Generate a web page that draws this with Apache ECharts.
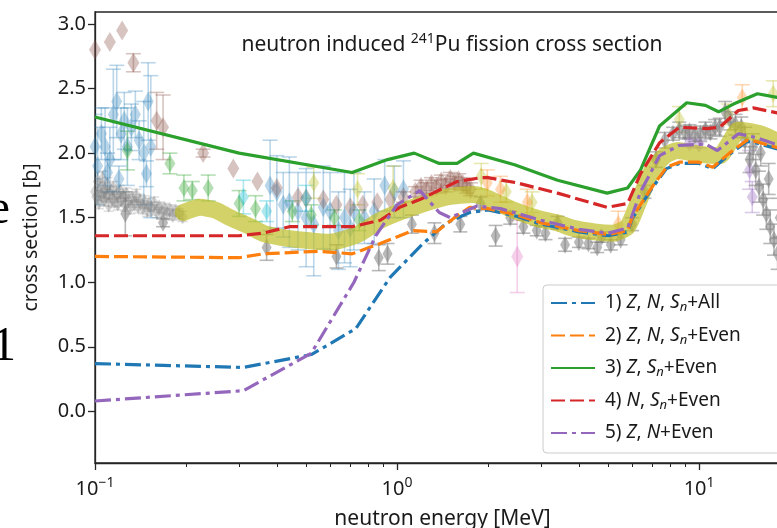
<!DOCTYPE html>
<html><head><meta charset="utf-8">
<script src="https://cdn.jsdelivr.net/npm/echarts@6/dist/echarts.min.js"></script>
<style>html,body{margin:0;padding:0;background:#fff;overflow:hidden;width:777px;height:528px}#c{width:830px;height:528px}</style>
</head><body><div id="c"></div>
<script>
// ---------- DATA ----------
const xMajorTicks = [0.1, 1, 10];
const xMinorTicks = [0.2,0.3,0.4,0.5,0.6,0.7,0.8,0.9,2,3,4,5,6,7,8,9,20];
const yTicks = [0.0,0.5,1.0,1.5,2.0,2.5,3.0];
const modelNames = ['1) Z, N, Sn+All','2) Z, N, Sn+Even','3) Z, Sn+Even','4) N, Sn+Even','5) Z, N+Even'];

const model1 = [[0.1,0.37],[0.31,0.34],[0.52,0.44],[0.73,0.64],[0.95,1.04],[1.22,1.30],[1.46,1.46],[1.74,1.54],[2.0,1.56],[2.5,1.51],[3.0,1.45],[4.0,1.39],[5.0,1.36],[5.8,1.39],[6.0,1.49],[7.0,1.73],[7.8,1.88],[8.6,1.92],[10.0,1.92],[11.1,1.88],[12.6,1.99],[14.4,2.09],[15.4,2.08],[18.3,2.03],[20,2.0]];
const model2 = [[0.1,1.20],[0.30,1.19],[0.36,1.22],[0.55,1.24],[0.71,1.22],[0.88,1.30],[1.13,1.40],[1.35,1.39],[1.55,1.50],[1.74,1.58],[2.0,1.57],[2.5,1.52],[3.0,1.46],[4.0,1.40],[5.0,1.37],[5.8,1.40],[6.0,1.50],[7.0,1.74],[7.8,1.89],[8.6,1.93],[10.0,1.93],[11.1,1.89],[12.6,2.0],[14.4,2.1],[15.4,2.09],[18.3,2.04],[20,2.01]];
const model3 = [[0.1,2.28],[0.30,2.0],[0.71,1.85],[0.93,1.95],[1.14,2.0],[1.38,1.92],[1.58,1.92],[1.79,2.0],[2.45,1.91],[3.4,1.79],[4.96,1.69],[5.8,1.73],[6.4,1.87],[7.4,2.21],[9.1,2.39],[10.5,2.37],[11.6,2.32],[13.0,2.38],[15.6,2.46],[18.3,2.43],[20,2.42]];
const model4 = [[0.1,1.36],[0.30,1.36],[0.36,1.38],[0.44,1.43],[0.71,1.43],[0.88,1.48],[1.02,1.58],[1.19,1.64],[1.58,1.78],[1.9,1.81],[2.0,1.81],[2.49,1.77],[3.4,1.69],[4.96,1.58],[5.8,1.61],[6.4,1.84],[7.4,2.08],[8.6,2.2],[10.6,2.19],[11.7,2.2],[13.5,2.33],[15.1,2.35],[18.3,2.31],[20,2.3]];
const model5 = [[0.1,0.08],[0.31,0.16],[0.52,0.45],[0.72,1.0],[0.85,1.36],[1.0,1.6],[1.19,1.71],[1.38,1.54],[1.5,1.50],[1.84,1.59],[2.2,1.57],[3.0,1.48],[4.0,1.41],[5.0,1.38],[5.8,1.42],[6.4,1.7],[7.4,1.98],[8.6,2.06],[10.5,2.07],[11.5,2.02],[13.5,2.15],[15.5,2.12],[18.3,2.06],[20,2.05]];

const evaluation = [[0.196,1.54],[0.223,1.58],[0.25,1.56],[0.28,1.50],[0.32,1.44],[0.36,1.38],[0.41,1.35],[0.47,1.33],[0.60,1.31],[0.74,1.37],[0.88,1.48],[1.13,1.58],[1.46,1.66],[1.79,1.68],[2.0,1.65],[2.42,1.56],[2.96,1.49],[3.4,1.46],[3.8,1.42],[4.5,1.39],[5.2,1.38],[5.8,1.43],[6.3,1.62],[7.0,1.87],[7.7,1.98],[8.5,2.02],[10.1,1.99],[11.7,1.98],[12.6,2.08],[13.5,2.18],[15.9,2.15],[18.3,2.09],[20,2.06]];

// experimental points: [energy, value, error]
const grayDense = [[0.100,1.70,0.06],[0.101,1.66,0.05],[0.102,1.78,0.07],[0.103,1.62,0.05],[0.104,1.72,0.06],[0.105,1.68,0.05],[0.106,1.80,0.06],[0.107,1.64,0.05],[0.108,1.71,0.06],[0.109,1.67,0.05],[0.110,1.75,0.06],[0.111,1.60,0.05],[0.112,1.69,0.05],[0.114,1.65,0.06],[0.115,1.73,0.05],[0.116,1.63,0.05],[0.118,1.68,0.06],[0.119,1.61,0.05],[0.121,1.70,0.05],[0.122,1.64,0.05],[0.124,1.66,0.06],[0.126,1.60,0.05],[0.127,1.68,0.05],[0.129,1.63,0.05],[0.131,1.58,0.05],[0.133,1.65,0.05],[0.135,1.61,0.05],[0.137,1.67,0.05],[0.139,1.59,0.05],[0.141,1.63,0.05],[0.144,1.58,0.05],[0.146,1.62,0.05],[0.149,1.56,0.05],[0.151,1.60,0.05],[0.154,1.57,0.05],[0.157,1.61,0.05],[0.160,1.55,0.05],[0.163,1.58,0.04],[0.166,1.54,0.04],[0.170,1.57,0.04],[0.173,1.53,0.04],[0.177,1.56,0.04],[0.181,1.52,0.04],[0.185,1.55,0.04],[0.190,1.53,0.04],[0.195,1.51,0.04]];
const grayPts = [[0.126,1.53,0.17],[0.168,1.46,0.03],[0.37,1.27,0.10],[0.63,1.20,0.09],[0.87,1.19,0.10],[0.93,1.22,0.08],[1.12,1.45,0.07],[1.33,1.38,0.08],[1.62,1.45,0.06],[1.89,1.61,0.05],[2.12,1.36,0.08],[2.37,1.50,0.05],[2.62,1.43,0.05],[2.9,1.40,0.04],[3.1,1.38,0.05],[3.4,1.46,0.05],[3.6,1.29,0.05],[4.0,1.31,0.04],[4.3,1.30,0.04],[4.6,1.27,0.04],[4.75,1.35,0.04],[5.1,1.29,0.04],[5.5,1.33,0.04],[6.0,1.45,0.05],[6.6,1.70,0.05],[7.2,1.95,0.06],[7.7,2.10,0.06],[8.2,2.15,0.05],[8.6,2.18,0.06],[9.0,2.16,0.05],[9.3,2.17,0.05],[9.7,2.14,0.05],[10.1,2.15,0.06],[10.5,2.18,0.06],[10.9,2.16,0.05],[11.3,2.20,0.06],[11.7,2.20,0.07],[12.2,2.32,0.08],[12.7,2.25,0.07],[13.2,2.22,0.08],[13.8,2.20,0.08],[14.2,2.10,0.10],[14.7,1.95,0.10],[15.1,2.05,0.10],[15.4,1.87,0.12],[15.8,1.74,0.12],[16.0,2.00,0.10],[16.3,1.64,0.12],[16.7,1.53,0.12],[17.0,1.80,0.12],[17.2,1.43,0.13],[17.7,1.33,0.12],[18.2,1.22,0.12],[18.5,1.50,0.15]];
const bluePts = [[0.100,2.05,0.25],[0.102,1.90,0.30],[0.105,2.15,0.20],[0.108,2.05,0.30],[0.110,1.85,0.15],[0.112,1.95,0.25],[0.115,2.30,0.35],[0.118,2.40,0.28],[0.120,1.80,0.10],[0.122,2.15,0.20],[0.125,2.25,0.22],[0.128,2.05,0.30],[0.132,2.20,0.18],[0.136,2.30,0.18],[0.140,2.10,0.15],[0.145,2.00,0.40],[0.148,1.84,0.10],[0.150,2.40,0.30],[0.153,2.05,0.55],[0.38,1.75,0.35],[0.40,1.70,0.28],[0.42,1.60,0.25],[0.44,1.62,0.35],[0.47,1.55,0.30],[0.50,1.50,0.38],[0.53,1.45,0.40],[0.57,1.58,0.32],[0.60,1.55,0.30],[0.64,1.40,0.30],[0.67,1.50,0.35],[0.70,1.42,0.30],[0.72,1.55,0.30],[0.78,1.50,0.20],[0.84,1.55,0.25],[0.91,1.75,0.20],[0.98,1.70,0.20],[1.05,1.72,0.22]];
const brownPts = [[0.100,2.80,0],[0.112,2.86,0],[0.123,2.95,0],[0.134,2.70,0.07],[0.160,2.25,0.22],[0.168,2.20,0.25],[0.228,2.00,0.03],[0.287,1.88,0],[0.345,1.78,0],[0.40,1.73,0],[0.47,1.66,0],[0.50,1.65,0],[0.57,1.64,0],[0.63,1.60,0],[0.70,1.58,0],[0.77,1.60,0],[0.86,1.62,0],[0.95,1.64,0],[1.05,1.66,0.04],[1.15,1.70,0.04],[1.20,1.74,0.05],[1.25,1.72,0.05],[1.30,1.76,0.05],[1.35,1.74,0.05],[1.40,1.78,0.05],[1.45,1.75,0.05],[1.50,1.80,0.05],[1.55,1.77,0.05],[1.60,1.79,0.05],[1.65,1.76,0.05],[1.70,1.74,0.05],[1.75,1.72,0.05]];
const greenPts = [[0.128,2.02,0.15],[0.177,1.92,0.08],[0.197,1.73,0.10],[0.210,1.71,0.07],[0.237,1.73,0.10],[0.30,1.61,0.10],[0.34,1.57,0.10],[0.45,1.55,0.08],[0.52,1.52,0.08],[0.62,1.50,0.06],[0.75,1.48,0.08]];
const cyanPts = [[0.31,1.66,0.13],[0.37,1.55,0.08],[0.50,1.65,0.10]];
const olivePts = [[0.53,1.77,0.12],[0.74,1.72,0.12],[0.97,1.73,0.17],[1.9,1.82,0.10],[2.3,1.70,0.08],[2.8,1.62,0.08],[8.6,2.26,0.10],[12.5,2.30,0.08],[17.6,2.46,0.10]];
const orangePts = [[1.99,1.77,0.10],[2.2,1.72,0.10],[2.7,1.62,0.10],[5.4,1.45,0.10],[13.9,2.43,0.10]];
const pinkPts = [[2.5,1.20,0.28]];
const purplePts = [[9.3,2.08,0.03],[10.0,2.07,0.03],[14.7,1.87,0.15],[15.0,1.66,0.12]];

// ---------- CHART ----------
const FONT = '"Noto Sans", "Open Sans", sans-serif';
const chart = echarts.init(document.getElementById('c'), null, {renderer:'canvas'});

function errSeries(data, color, op, capW, z){
  return {type:'custom', data:data, clip:true, z:z, silent:true,
    renderItem:function(params, api){
      const x=api.value(0), y=api.value(1), e=api.value(2);
      if(!e) return {type:'group', children:[]};
      const t=api.coord([x,y+e]), b=api.coord([x,y-e]);
      const st={stroke:color, lineWidth:1.6, opacity:op};
      return {type:'group', children:[
        {type:'line', shape:{x1:t[0],y1:t[1],x2:b[0],y2:b[1]}, style:st},
        {type:'line', shape:{x1:t[0]-capW/2,y1:t[1],x2:t[0]+capW/2,y2:t[1]}, style:st},
        {type:'line', shape:{x1:b[0]-capW/2,y1:b[1],x2:b[0]+capW/2,y2:b[1]}, style:st}
      ]};
    }};
}
function ptSeries(data, color, op, size, z){
  return {type:'scatter', data:data.map(d=>[d[0],d[1]]), symbol:'diamond', symbolSize:size,
    itemStyle:{color:color, opacity:op}, z:z, silent:true, clip:true};
}
function modelSeries(name, data, color, dash){
  return {type:'line', name:name, data:data, symbol:'none', z:10, silent:true,
    lineStyle:{color:color, width:3.2, type:dash}, itemStyle:{color:color, opacity:0}};
}

const exps = [
  [grayDense,'#7f7f7f',0.25,0.3,[10,16],10],
  [bluePts,'#1f77b4',0.3,0.3,[11,20],15],
  [brownPts,'#8c564b',0.35,0.35,[12,20],15],
  [greenPts,'#2ca02c',0.35,0.35,[11,18],15],
  [cyanPts,'#17becf',0.35,0.35,[11,18],15],
  [olivePts,'#bcbd22',0.35,0.35,[11,18],15],
  [orangePts,'#ff7f0e',0.3,0.3,[11,18],15],
  [pinkPts,'#e377c2',0.35,0.35,[12,22],15],
  [purplePts,'#9467bd',0.35,0.35,[11,18],15],
  [grayPts,'#7f7f7f',0.55,0.55,[10,18],14]
];
const series = [];
exps.forEach(function(d){
  series.push(errSeries(d[0], d[1], d[2], d[5], 2));
  series.push(ptSeries(d[0], d[1], d[3], d[4], 2));
});
series.push({type:'line', data:evaluation, symbol:'none', z:5, silent:true, smooth:0.2,
  lineStyle:{color:'#bcbd22', width:17, opacity:0.68, cap:'round', join:'round'}});
const dashDot=[16,5,4,5], dashed=[14,5];
series.push(modelSeries(modelNames[0], model1, '#1f77b4', dashDot));
series.push(modelSeries(modelNames[1], model2, '#ff7f0e', dashed));
series.push(modelSeries(modelNames[2], model3, '#2ca02c', 'solid'));
series.push(modelSeries(modelNames[3], model4, '#d62728', dashed));
series.push(modelSeries(modelNames[4], model5, '#9467bd', dashDot));

const legendRich = {
  1:'1) {i|Z}, {i|N}, {i|S}{s|n}+All',
  2:'2) {i|Z}, {i|N}, {i|S}{s|n}+Even',
  3:'3) {i|Z}, {i|S}{s|n}+Even',
  4:'4) {i|N}, {i|S}{s|n}+Even',
  5:'5) {i|Z}, {i|N}+Even'
};

const supMap = {'-1':'\u22121','0':'0','1':'1'};
chart.setOption({
  animation:false,
  backgroundColor:'#fff',
  grid:{left:95, top:12, width:695, height:451, show:true, borderColor:'#262626', borderWidth:1.3,
    containLabel:false, outerBoundsMode:'none'},
  xAxis:[{
    type:'log', logBase:10, min:0.1, max:20, position:'bottom',
    axisLine:{show:true, onZero:false, lineStyle:{color:'#262626', width:1.3}},
    axisTick:{show:true, length:7, customValues:xMajorTicks, lineStyle:{color:'#262626', width:1.3}},
    axisLabel:{show:true, customValues:xMajorTicks, margin:13, color:'#1a1a1a', fontFamily:FONT, fontSize:20,
      formatter:function(v){const e=Math.round(Math.log10(v)); return '10{s|'+supMap[String(e)]+'}';},
      rich:{s:{fontSize:14, fontFamily:FONT, color:'#1a1a1a', padding:[0,0,12,0]}}},
    splitLine:{show:false},
    name:'neutron energy [MeV]', nameLocation:'middle', nameGap:46,
    nameTextStyle:{fontFamily:FONT, fontSize:21, color:'#1a1a1a'}
  },{
    type:'log', logBase:10, min:0.1, max:20, position:'bottom',
    axisLine:{show:false, onZero:false}, axisLabel:{show:false}, splitLine:{show:false},
    axisTick:{show:true, length:4, customValues:xMinorTicks, lineStyle:{color:'#262626', width:1}}
  }],
  yAxis:{
    type:'value', min:-0.4, max:3.093,
    axisLine:{show:true, onZero:false, lineStyle:{color:'#262626', width:1.3}},
    axisTick:{show:true, length:7, customValues:yTicks, lineStyle:{color:'#262626', width:1.3}},
    axisLabel:{show:true, customValues:yTicks, margin:9, color:'#1a1a1a', fontFamily:FONT, fontSize:20,
      formatter:function(v){return v.toFixed(1);}},
    splitLine:{show:false},
    name:'cross section [b]', nameLocation:'middle', nameGap:54, nameRotate:90,
    nameTextStyle:{fontFamily:FONT, fontSize:19.5, color:'#1a1a1a'}
  },
  legend:{
    data:modelNames, orient:'vertical', left:543, top:285,
    itemWidth:44, itemHeight:14, itemGap:8.5,
    padding:[6,40,8,7],
    backgroundColor:'rgba(255,255,255,0.85)', borderColor:'#cccccc', borderWidth:1, borderRadius:4,
    itemStyle:{opacity:0},
    formatter:function(n){return legendRich[modelNames.indexOf(n)+1];},
    textStyle:{fontFamily:FONT, fontSize:19, color:'#1a1a1a', lineHeight:24, padding:[0,0,0,5],
      rich:{i:{fontStyle:'italic', fontFamily:FONT, fontSize:19, color:'#1a1a1a'},
            s:{fontStyle:'italic', fontFamily:FONT, fontSize:13, color:'#1a1a1a', padding:[9,0,0,0]}}}
  },
  graphic:[
    {type:'text', x:452, y:45, style:{text:'neutron induced {s|241}Pu fission cross section',
      rich:{s:{fontSize:14, fontFamily:FONT, fill:'#1a1a1a', padding:[0,0,11,0]}},
      fontFamily:FONT, fontSize:21, fill:'#1a1a1a', align:'center', verticalAlign:'middle'}},
    {type:'text', x:10, y:186, style:{text:'e', fontFamily:'"Liberation Serif", serif', fontSize:49, fill:'#000', align:'right', verticalAlign:'top'}},
    {type:'text', x:16, y:323, style:{text:'1', fontFamily:'"Liberation Serif", serif', fontSize:49, fill:'#000', align:'right', verticalAlign:'top'}}
  ],
  series:series
});
</script></body></html>
